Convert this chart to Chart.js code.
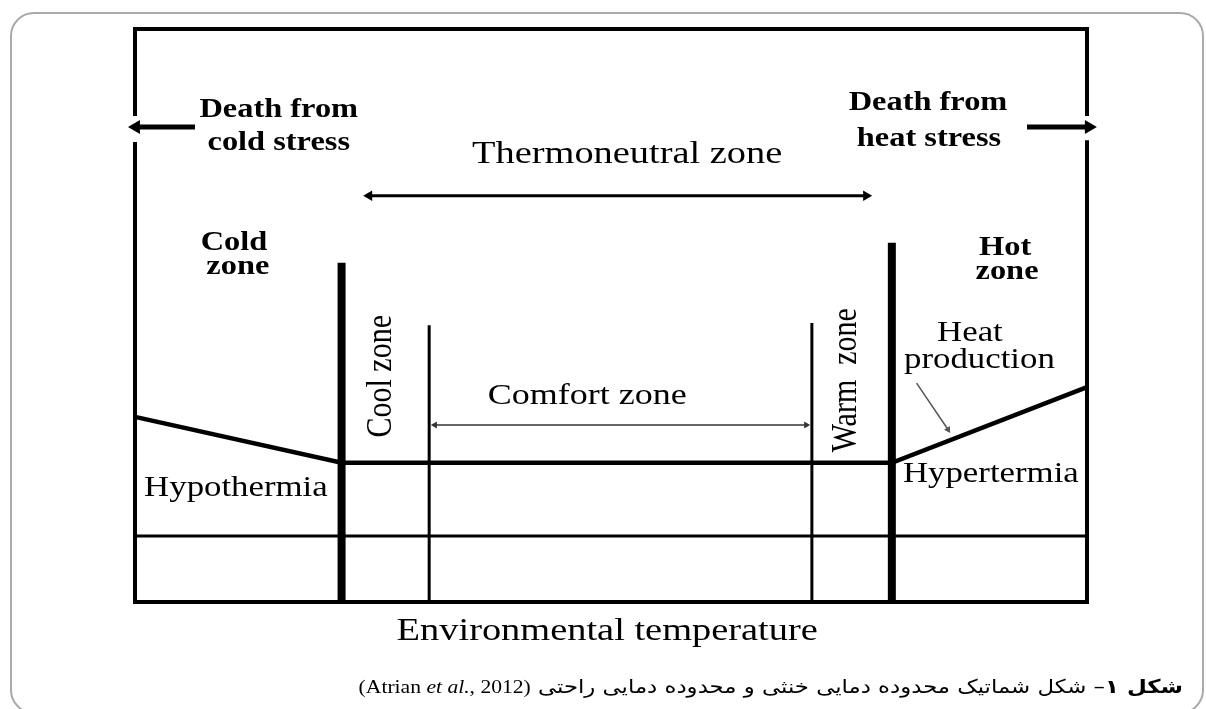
<!DOCTYPE html>
<html>
<head>
<meta charset="utf-8">
<title>Thermoneutral zone</title>
<script src="https://cdn.jsdelivr.net/npm/chart.js@4.4.1/dist/chart.umd.min.js"></script>
<style>
  body { margin: 0; background: #fff; }
  #wrap { position: relative; width: 1206px; height: 709px; overflow: hidden; }
  #border { position: absolute; left: 10px; top: 12px; width: 1190px; height: 698px;
            border: 2px solid #aaa; border-radius: 24px; }
  #mycanvas { position: absolute; left: 0; top: 0; }
  #caption { position: absolute; right: 23px; top: 675px; direction: rtl; white-space: nowrap;
             font-family: "DejaVu Sans"; font-size: 19px; color: #000;
             transform: scaleX(1.2); transform-origin: right center; }
  #caption .lat { font-family: "Liberation Serif"; font-size: 18px; }
</style>
</head>
<body>
<div id="wrap">
  <div id="border"></div>
  <canvas id="mycanvas" width="1206" height="709"></canvas>
  <div id="caption" dir="rtl"><b>شکل ۱</b>– شکل شماتیک محدوده دمایی خنثی و محدوده دمایی راحتی <span class="lat">(Atrian <i>et al.</i>, 2012)</span></div>
</div>
<script>
// schematic axes: temperature 0..100 left to right, heat production 0..100 bottom to top
var tempPoints = [0, 21.7, 79.5, 100];
var heatProduction = [32.3, 24.3, 24.3, 37.5];

// zone boundaries (cold|cool, cool|comfort, comfort|warm, warm|hot)
var boundaryX = [21.7, 30.9, 71.1, 79.5];
var boundaryTop = [59.2, 48.3, 48.7, 62.7];
var lowerLineY = 11.5;

// arrows
var thermoX = [24.6, 76.8];
var thermoY = 70.9;
var comfortX = [31.5, 70.5];
var comfortY = 30.9;
var deathY = 82.9;
var deathColdX = [6.3, 0.1];
var deathHeatX = [93.7, 100.2];
var pointerX = [82.1, 85.4];
var pointerY = [38.2, 30.1];

// gap in the frame where the death arrows pass
var gapLeft = [80.3, 84.8];
var gapRight = [80.6, 84.8];

function seg(xs, ys, width, color, extra) {
  var pts = [];
  for (var i = 0; i < xs.length; i++) pts.push({x: xs[i], y: ys[i]});
  var ds = {
    data: pts,
    showLine: true,
    borderColor: color,
    borderWidth: width,
    borderCapStyle: 'butt',
    borderJoinStyle: 'miter',
    tension: 0,
    pointRadius: 0,
    pointHoverRadius: 0,
    pointStyle: 'triangle',
    pointBackgroundColor: color,
    pointBorderWidth: 0,
    clip: false
  };
  for (var k in extra) ds[k] = extra[k];
  return ds;
}

var datasets = [];
// frame
datasets.push(seg([0, 0, 100, 100], [gapLeft[1], 100, 100, gapRight[1]], 4, '#000'));
datasets.push(seg([0, 0, 100, 100], [gapLeft[0], 0, 0, gapRight[0]], 4, '#000'));
// heat production curve
datasets.push(seg(tempPoints, heatProduction, 4.5, '#000'));
// zone boundaries
var boundaryWidth = [8, 3, 3, 8];
for (var i = 0; i < boundaryX.length; i++) {
  datasets.push(seg([boundaryX[i], boundaryX[i]], [0, boundaryTop[i]], boundaryWidth[i], '#000'));
}
datasets.push(seg([0, 100], [lowerLineY, lowerLineY], 3, '#000'));
// arrows
datasets.push(seg(thermoX, [thermoY, thermoY], 3, '#000',
  {pointRadius: [6, 6], pointRotation: [270, 90]}));
datasets.push(seg(comfortX, [comfortY, comfortY], 1.5, '#333',
  {pointRadius: [4, 4], pointRotation: [270, 90]}));
datasets.push(seg(deathColdX, [deathY, deathY], 5, '#000',
  {pointRadius: [0, 8], pointRotation: [0, 270]}));
datasets.push(seg(deathHeatX, [deathY, deathY], 5, '#000',
  {pointRadius: [0, 8], pointRotation: [0, 90]}));
datasets.push(seg(pointerX, pointerY, 1.5, '#555',
  {pointRadius: [0, 4], pointRotation: [0, 147]}));

var labels = [
  {t: 'Death from', x: 15.1, y: 85.9, size: 27, bold: true},
  {t: 'cold stress', x: 15.1, y: 80.1, size: 27, bold: true},
  {t: 'Death from', x: 83.3, y: 87.1, size: 27, bold: true},
  {t: 'heat stress', x: 83.4, y: 80.8, size: 27, bold: true},
  {t: 'Thermoneutral zone', x: 51.7, y: 78.0, size: 32},
  {t: 'Cold', x: 10.4, y: 62.7, size: 27, bold: true},
  {t: 'zone', x: 10.8, y: 58.5, size: 27, bold: true},
  {t: 'Hot', x: 91.4, y: 61.8, size: 27, bold: true},
  {t: 'zone', x: 91.6, y: 57.6, size: 27, bold: true},
  {t: 'Cool zone', x: 25.9, y: 39.4, size: 30, rot: true},
  {t: 'Warm  zone', x: 74.7, y: 38.7, size: 30, rot: true},
  {t: 'Comfort zone', x: 47.5, y: 36.0, size: 30},
  {t: 'Heat', x: 87.7, y: 46.9, size: 29},
  {t: 'production', x: 88.7, y: 42.2, size: 29},
  {t: 'Hypothermia', x: 10.6, y: 19.9, size: 29},
  {t: 'Hypertermia', x: 89.9, y: 22.3, size: 29},
  {t: 'Environmental temperature', x: 49.6, y: -5.2, size: 32}
];

var textPlugin = {
  id: 'texts',
  afterDatasetsDraw: function(chart) {
    var ctx = chart.ctx, xs = chart.scales.x, ys = chart.scales.y;
    labels.forEach(function(l) {
      ctx.save();
      ctx.translate(xs.getPixelForValue(l.x), ys.getPixelForValue(l.y));
      if (l.rot) { ctx.rotate(-Math.PI / 2); ctx.scale(1, 1.2); }
      else ctx.scale(1.2, 1);
      ctx.font = (l.bold ? 'bold ' : '') + l.size + 'px "Liberation Serif"';
      ctx.textAlign = 'center';
      ctx.textBaseline = 'middle';
      ctx.fillStyle = '#000';
      ctx.fillText(l.t, 0, 0);
      ctx.restore();
    });
  }
};

var ctx = document.getElementById('mycanvas');
var chart = new Chart(ctx, {
  type: 'scatter',
  data: {datasets: datasets},
  options: {
    responsive: false,
    animation: false,
    events: [],
    layout: {padding: {left: 135, right: 119, top: 29, bottom: 107}},
    scales: {
      x: {type: 'linear', min: 0, max: 100, display: false},
      y: {type: 'linear', min: 0, max: 100, display: false}
    },
    plugins: {legend: {display: false}, tooltip: {enabled: false}}
  },
  plugins: [textPlugin]
});
</script>
</body>
</html>
